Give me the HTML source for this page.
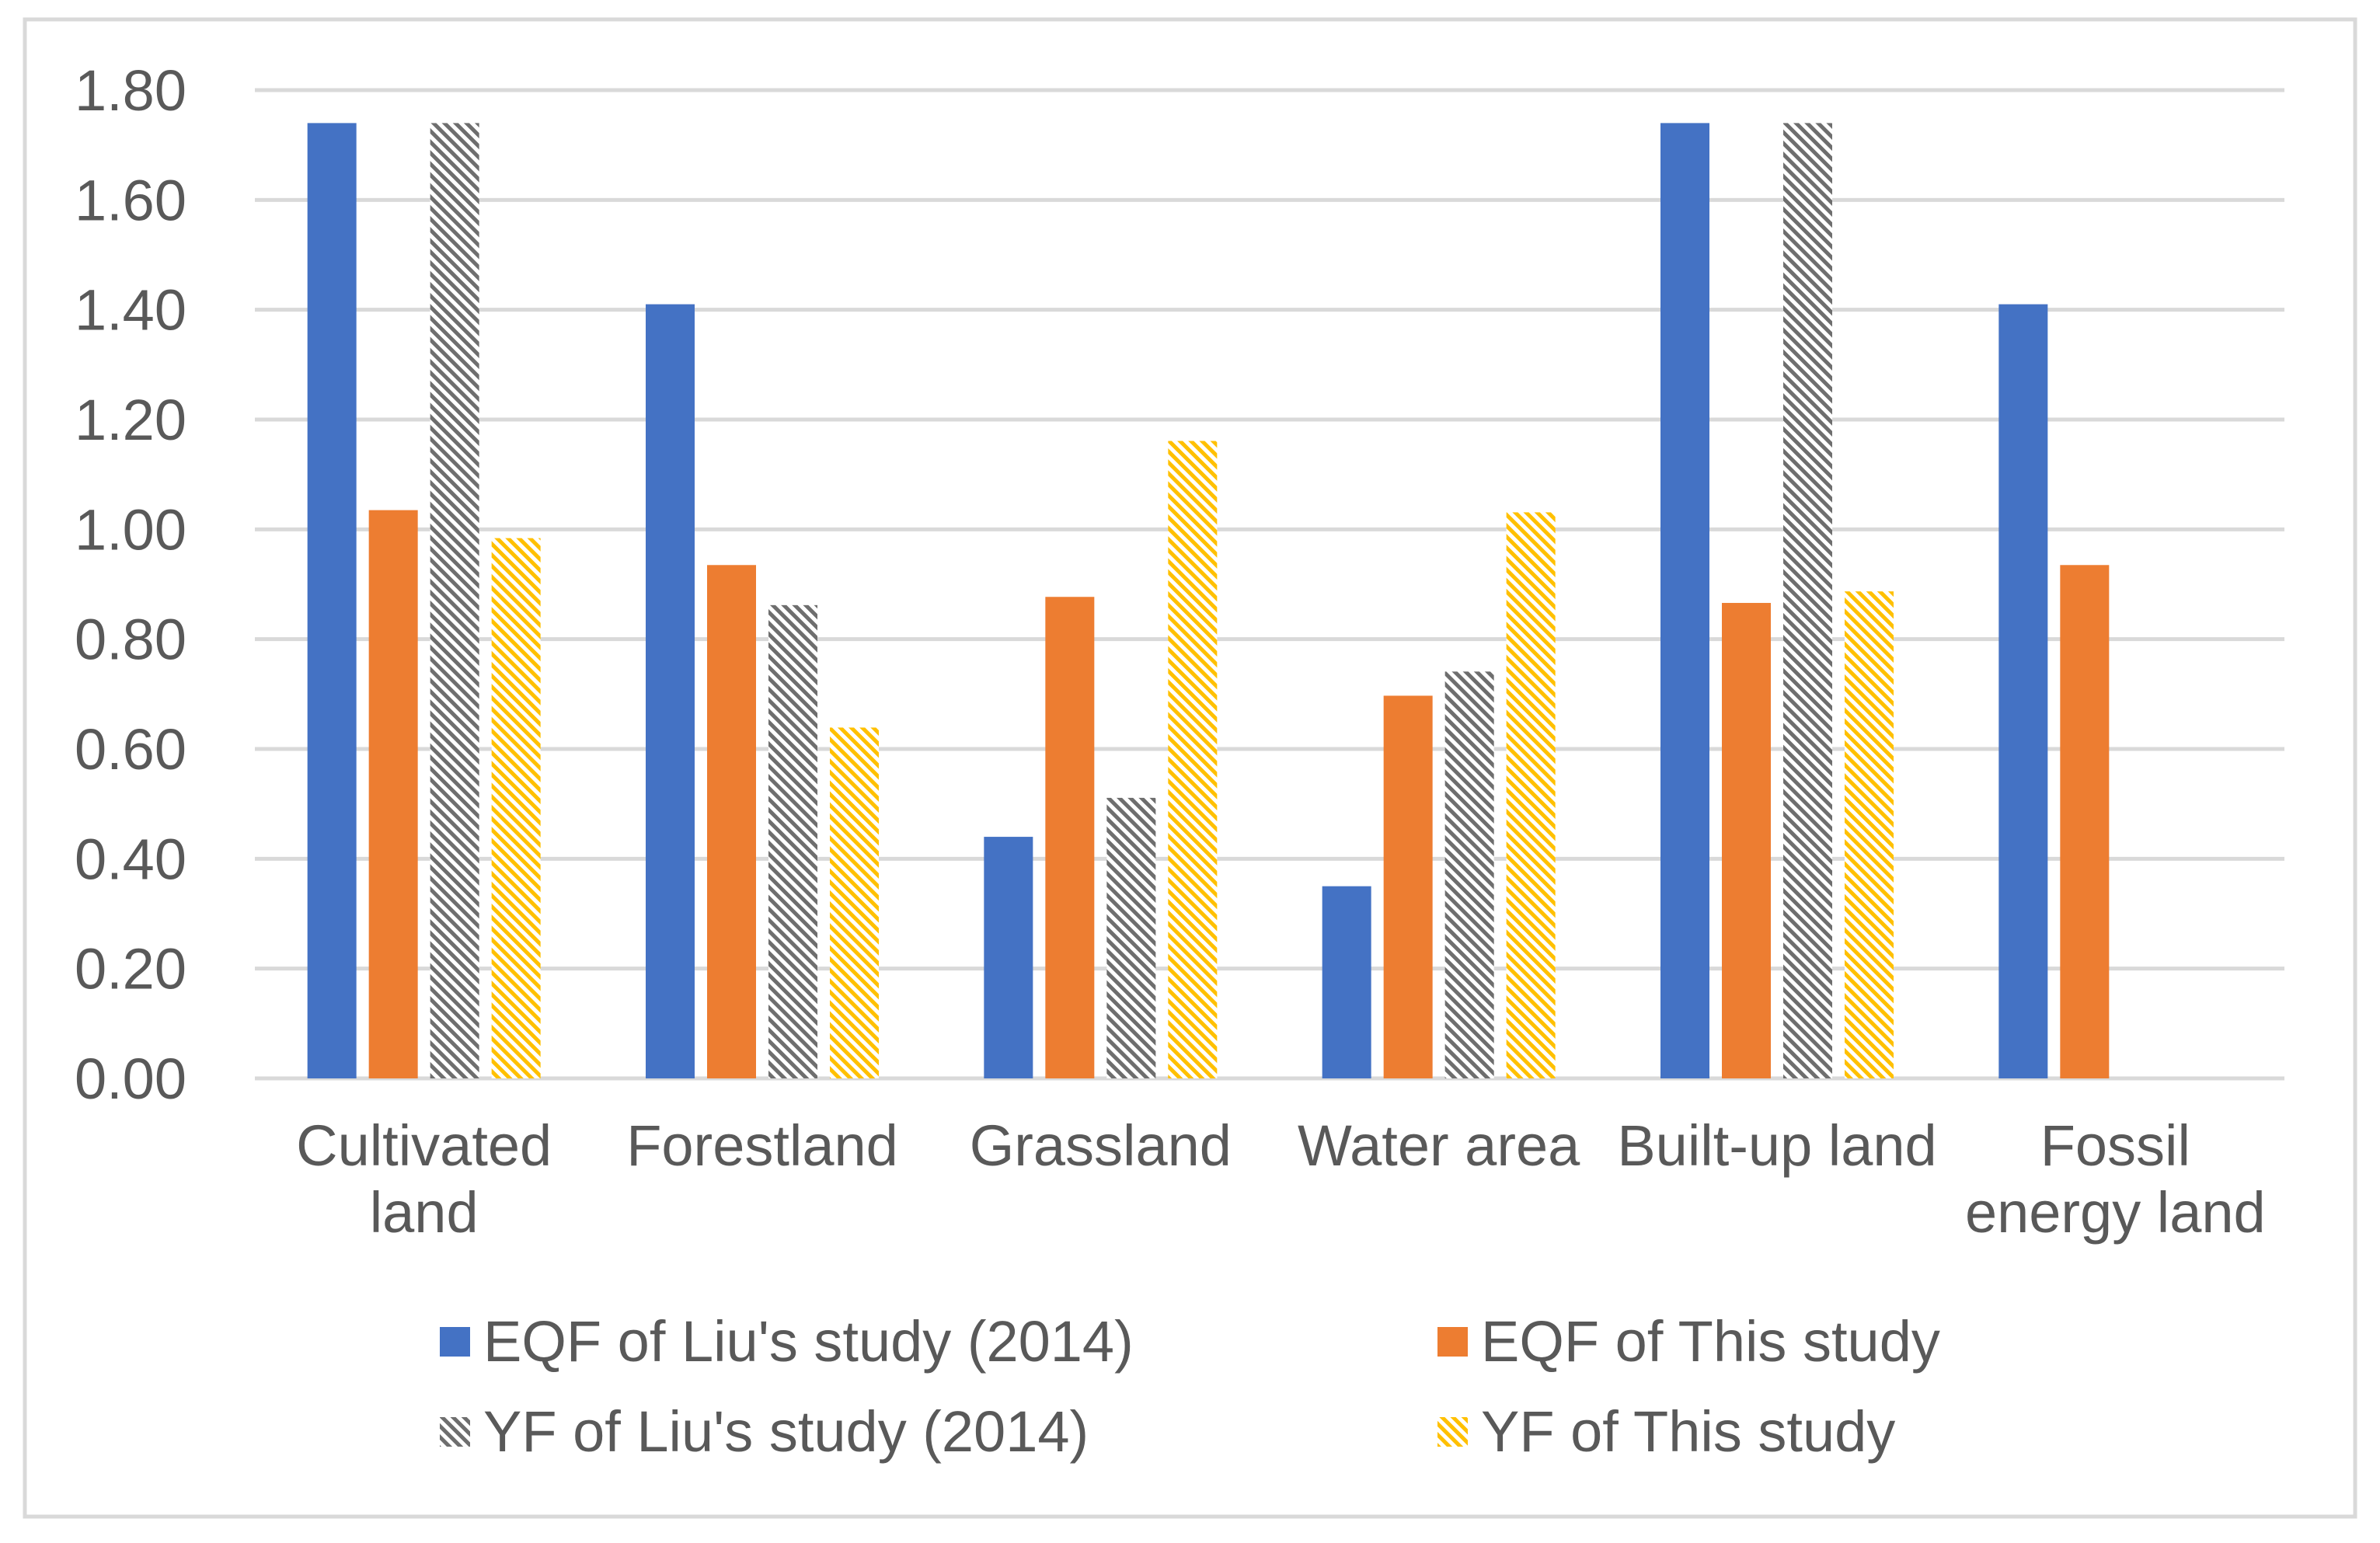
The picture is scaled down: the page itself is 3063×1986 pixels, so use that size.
<!DOCTYPE html>
<html><head><meta charset="utf-8">
<style>
html,body{margin:0;padding:0;background:#fff;}
svg text{font-family:"Liberation Sans",sans-serif;fill:#595959;}
</style></head>
<body>
<svg id="chart" width="3063" height="1981" viewBox="0 0 3063 1981" xmlns="http://www.w3.org/2000/svg">
<defs>
<pattern id="hatchGray" patternUnits="userSpaceOnUse" width="10" height="10" patternTransform="rotate(-45)">
<rect width="10" height="10" fill="#fff"/><rect width="5" height="10" fill="#6e6e6e"/>
</pattern>
<pattern id="hatchYellow" patternUnits="userSpaceOnUse" width="10" height="10" patternTransform="rotate(-45)">
<rect width="10" height="10" fill="#fff"/><rect width="5" height="10" fill="#ffc000"/>
</pattern>
</defs>
<rect x="32" y="25" width="2999" height="1927" fill="#fff" stroke="#d9d9d9" stroke-width="5"/>
<g id="grid"></g>
<g id="bars"></g>
<g id="xlabels"></g>
<g id="legend"></g>
</svg>
<script>
const categories = [["Cultivated","land"],["Forestland"],["Grassland"],["Water area"],["Built-up land"],["Fossil","energy land"]];
const eqfLiu = [1.74,1.41,0.44,0.35,1.74,1.41];
const eqfThis = [1.035,0.935,0.877,0.697,0.866,0.935];
const yfLiu = [1.74,0.862,0.511,0.741,1.74,null];
const yfThis = [0.984,0.639,1.161,1.031,0.887,null];
const yTicks = [0,0.2,0.4,0.6,0.8,1.0,1.2,1.4,1.6,1.8];
const seriesNames = ["EQF of Liu's study (2014)","EQF of This study","YF of Liu's study (2014)","YF of This study"];

const NS="http://www.w3.org/2000/svg";
const plotL=328, plotR=2940, y0=1388, y18=116;
const yScale=v=>y0-(v/1.8)*(y0-y18);
const groupW=(plotR-plotL)/categories.length;
const xCenter=i=>plotL+groupW*(i+0.5);
const barW=63, step=79;
function mk(tag,attrs,parent){const e=document.createElementNS(NS,tag);for(const k in attrs)e.setAttribute(k,attrs[k]);parent.appendChild(e);return e;}

const grid=document.getElementById('grid');
yTicks.forEach(t=>{
  const y=yScale(t);
  const l=mk('line',{x1:plotL,x2:plotR,y1:y,y2:y,stroke:'#d9d9d9','stroke-width':5},grid);
  
  
  const tx=mk('text',{x:240,y:y+26,'text-anchor':'end','font-size':74},grid);
  tx.textContent=t.toFixed(2);
  
  
});

const bars=document.getElementById('bars');
const series=[[eqfLiu,'#4472c4'],[eqfThis,'#ed7d31'],[yfLiu,'url(#hatchGray)'],[yfThis,'url(#hatchYellow)']];
categories.forEach((c,i)=>{
  series.forEach((s,j)=>{
    const v=s[0][i]; if(v==null) return;
    const x=xCenter(i)-1.5*step-barW/2+j*step;
    const r=mk('rect',{x:x,y:yScale(v),width:barW,height:y0-yScale(v),fill:s[1]},bars);
    
    
  });
});

const xl=document.getElementById('xlabels');
categories.forEach((c,i)=>{
  c.forEach((line,k)=>{
    const t=mk('text',{x:xCenter(i),y:1500+k*86,'text-anchor':'middle','font-size':74},xl);
    t.textContent=line;
    
    
  });
});

const lg=document.getElementById('legend');
const lpos=[[566,1727],[1850,1727],[566,1843],[1850,1843]];
const lfill=['#4472c4','#ed7d31','url(#hatchGray)','url(#hatchYellow)'];
seriesNames.forEach((n,i)=>{
  const [x,y]=lpos[i];
  const r=mk('rect',{x:x,y:y-19,width:39,height:38,fill:lfill[i]},lg);
  
  
  const t=mk('text',{x:x+56,y:y+25,'font-size':74},lg);
  t.textContent=n;
  
  
});
</script>
</body></html>
